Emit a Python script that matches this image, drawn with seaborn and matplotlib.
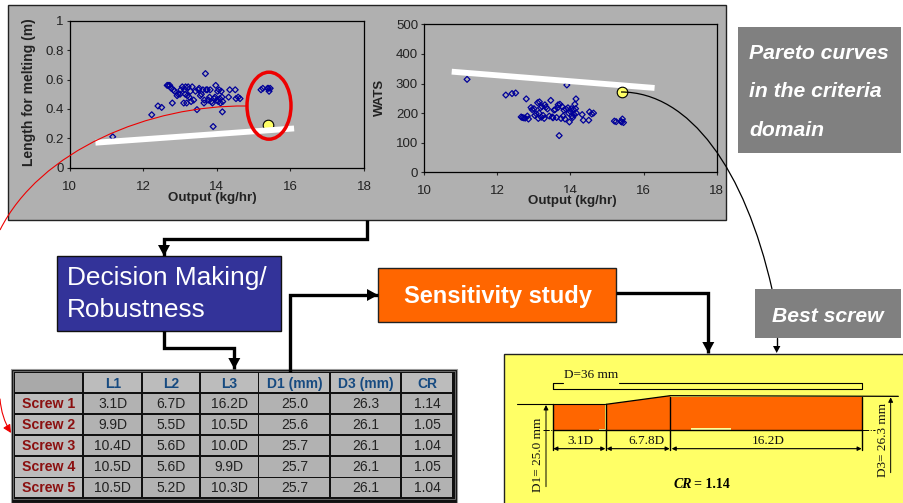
import matplotlib
matplotlib.use('Agg')
import matplotlib.pyplot as plt
from matplotlib.patches import Rectangle, Ellipse, Polygon, PathPatch
from matplotlib.path import Path
import seaborn as sns

# Values (same designs in both)
output_kg = [11.17, 12.23, 12.40, 12.50, 12.65, 12.68, 12.72, 12.76, 12.79, 12.82,
             12.85, 12.92, 12.95, 13.00, 13.02, 13.06, 13.10, 13.12, 13.14, 13.15,
             13.18, 13.20, 13.22, 13.25, 13.28, 13.30, 13.33, 13.37, 13.42, 13.46,
             13.50, 13.52, 13.55, 13.58, 13.62, 13.65, 13.66, 13.69, 13.71, 13.74,
             13.77, 13.80, 13.82, 13.85, 13.88, 13.90, 13.93, 13.95, 13.97, 14.00,
             14.02, 14.04, 14.06, 14.08, 14.10, 14.12, 14.14, 14.15, 14.16, 14.32,
             14.35, 14.50, 14.52, 14.58, 14.63, 15.20, 15.25, 15.38, 15.40, 15.42, 15.45]
length_m = [0.21, 0.36, 0.42, 0.41, 0.56, 0.56, 0.56, 0.54, 0.44, 0.53,
            0.52, 0.49, 0.50, 0.50, 0.53, 0.55, 0.44, 0.53, 0.50, 0.55,
            0.44, 0.49, 0.55, 0.48, 0.52, 0.45, 0.55, 0.46, 0.52, 0.395,
            0.53, 0.54, 0.49, 0.50, 0.53, 0.44, 0.46, 0.64, 0.53, 0.53,
            0.46, 0.48, 0.53, 0.45, 0.44, 0.28, 0.47, 0.48, 0.56, 0.46,
            0.52, 0.45, 0.53, 0.47, 0.44, 0.52, 0.48, 0.38, 0.45, 0.48,
            0.53, 0.53, 0.47, 0.48, 0.47, 0.53, 0.54, 0.54, 0.54, 0.52, 0.54]
wats = [314, 261, 266, 268, 187, 185, 184, 183, 248, 190,
        180, 219, 212, 215, 192, 198, 235, 182, 200, 238,
        218, 186, 222, 192, 182, 228, 220, 214, 190, 243,
        187, 184, 210, 212, 185, 218, 228, 124, 230, 182,
        222, 190, 210, 180, 213, 295, 218, 200, 170, 205,
        215, 190, 185, 212, 195, 230, 215, 248, 200, 195,
        176, 176, 204, 197, 200, 173, 171, 172, 170, 180, 168]
pareto_x = [15.4]
pareto_length = [0.29]
pareto_wats = [272]
front_x_left = [10.7, 16.1]
front_y_left = [0.17, 0.267]
front_x_right = [10.75, 16.3]
front_y_right = [340, 285]

x_ticks = [10, 12, 14, 16, 18]
length_ticks = [0, 0.2, 0.4, 0.6, 0.8, 1]
length_labels = ['0', '0.2', '0.4', '0.6', '0.8', '1']
wats_ticks = [0, 100, 200, 300, 400, 500]

table_columns = ['L1', 'L2', 'L3', 'D1 (mm)', 'D3 (mm)', 'CR']
table_rows = ['Screw 1', 'Screw 2', 'Screw 3', 'Screw 4', 'Screw 5']
l1_values = ['3.1D', '9.9D', '10.4D', '10.5D', '10.5D']
l2_values = ['6.7D', '5.5D', '5.6D', '5.6D', '5.2D']
l3_values = ['16.2D', '10.5D', '10.0D', '9.9D', '10.3D']
d1_values = ['25.0', '25.6', '25.7', '25.7', '25.7']
d3_values = ['26.3', '26.1', '26.1', '26.1', '26.1']
cr_values = ['1.14', '1.05', '1.04', '1.05', '1.04']

sns.set_theme(style='white')
plt.rcParams['font.family'] = ['Liberation Sans', 'DejaVu Sans']

W, H = 904, 503
PANEL = '#b0b0b0'
fig = plt.figure(figsize=(W / 100, H / 100), dpi=100)


def pixel_axes(zorder):
    ax = fig.add_axes([0, 0, 1, 1], zorder=zorder)
    ax.set_xlim(0, W)
    ax.set_ylim(H, 0)
    ax.axis('off')
    return ax


def box(ax, x0, y0, x1, y1, **kw):
    ax.add_patch(Rectangle((x0, y0), x1 - x0, y1 - y0, **kw))


def chart_axes(x0, y0, x1, y1):
    ax = fig.add_axes([x0 / W, 1 - y1 / H, (x1 - x0) / W, (y1 - y0) / H], zorder=1)
    ax.patch.set_alpha(0)
    for s in ax.spines.values():
        s.set_color('black')
        s.set_linewidth(0.9)
    return ax


def draw_chart(ax, y_values, point_y, front_x, front_y, ylim, yticks, ylabels, point_z):
    sns.scatterplot(x=output_kg, y=y_values, marker='D', s=9, facecolor='none',
                    edgecolor='#000099', linewidth=0.9, ax=ax)
    sns.lineplot(x=front_x, y=front_y, color='white', linewidth=4.2, ax=ax, zorder=3,
                 solid_capstyle='butt')
    sns.scatterplot(x=pareto_x, y=point_y, s=58, color='#ffff66', edgecolor='black',
                    linewidth=0.8, ax=ax, zorder=point_z, clip_on=False)
    ax.set_xlim(10, 18)
    ax.set_ylim(*ylim)
    ax.set_xticks(x_ticks)
    ax.set_yticks(yticks)
    ax.set_yticklabels(ylabels)
    ax.tick_params(axis='x', length=2.5, width=0.8, pad=7, labelsize=9.5, labelcolor='#222222', bottom=True)
    ax.tick_params(axis='y', length=2.5, width=0.8, pad=2, labelsize=9.5, labelcolor='#222222', left=True)


bg = pixel_axes(0)
top = pixel_axes(2)

# grey panel behind both plots
box(bg, 8, 5, 726.5, 220, facecolor=PANEL, edgecolor='#222222', linewidth=1)

ax_left = chart_axes(69.7, 20.7, 364, 167.7)
draw_chart(ax_left, length_m, pareto_length, front_x_left, front_y_left, (0, 1),
           length_ticks, length_labels, 2.5)
ax_right = chart_axes(424.3, 24.3, 716.7, 172.3)
draw_chart(ax_right, wats, pareto_wats, front_x_right, front_y_right, (0, 500),
           wats_ticks, [str(t) for t in wats_ticks], 4)

label_kw = dict(fontweight='bold', color='#222222', ha='center', va='center')
for x, y in [(212, 198), (572.7, 201)]:
    top.text(x, y, 'Output (kg/hr)', fontsize=9.6,
             bbox=dict(facecolor=PANEL, edgecolor='none', pad=1.2), **label_kw)
top.text(29, 92, 'Length for melting (m)', fontsize=10, rotation=90, **label_kw)
top.text(380, 97, 'WATS', fontsize=9.5, rotation=90, **label_kw)

# red selection and leader curve
top.add_patch(Ellipse((269, 105.7), 44, 67, facecolor='none', edgecolor='#ee0000', linewidth=2.5))
red = Path([(246, 106), (150, 105), (40, 150), (0, 230)],
           [Path.MOVETO, Path.CURVE4, Path.CURVE4, Path.CURVE4])
top.add_patch(PathPatch(red, facecolor='none', edgecolor='#ee0000', linewidth=0.8))
top.annotate('', xy=(11, 433), xytext=(0, 399),
             arrowprops=dict(arrowstyle='-|>', color='#ee0000', lw=0.8,
                             connectionstyle='arc3,rad=0.12', shrinkA=0, shrinkB=0))

# black leader to the best screw
black = Path([(621, 92), (690, 92), (745, 170), (772, 289)],
             [Path.MOVETO, Path.CURVE4, Path.CURVE4, Path.CURVE4])
top.add_patch(PathPatch(black, facecolor='none', edgecolor='black', linewidth=0.9))

# caption boxes
box(top, 738, 27.3, 900.7, 152.7, facecolor='#808080', edgecolor='none')
cap = dict(color='white', fontweight='bold', fontstyle='italic', fontsize=15.2, va='center')
top.text(749, 53, 'Pareto curves', **cap)
top.text(749, 91, 'in the criteria', **cap)
top.text(749, 130, 'domain', **cap)
box(top, 755, 289, 901, 337.7, facecolor='#808080', edgecolor='none')
top.text(772.5, 316, 'Best screw', **cap)

box(top, 56.7, 255.7, 280.7, 330.7, facecolor='#333399', edgecolor='#111111', linewidth=1)
top.text(67, 278, 'Decision Making/', color='white', fontsize=18.9, va='center')
top.text(67, 310, 'Robustness', color='white', fontsize=18.9, va='center')
box(top, 378.3, 268.3, 616, 322.3, facecolor='#ff6600', edgecolor='#222222', linewidth=1)
top.text(498, 296.5, 'Sensitivity study', color='white', fontsize=17, fontweight='bold',
         ha='center', va='center')


def flow(ax, xs, ys):
    ax.plot(xs, ys, color='black', linewidth=2.4, solid_joinstyle='miter', solid_capstyle='butt')
    tx, ty = xs[-1], ys[-1]
    if xs[-1] == xs[-2]:
        tri = [(tx, ty), (tx - 6, ty - 11), (tx + 6, ty - 11)]
    else:
        tri = [(tx, ty), (tx - 11, ty - 6), (tx - 11, ty + 6)]
    ax.add_patch(Polygon(tri, closed=True, facecolor='black', edgecolor='none'))


flow(top, [367.5, 367.5, 164, 164, 164], [220, 239, 239, 246, 256])
flow(top, [164.3, 164.3, 234.3, 234.3], [331, 348.3, 348.3, 369])
flow(top, [290, 290, 378], [372, 295, 295])
flow(top, [616, 708.3, 708.3], [292.7, 292.7, 353])
top.plot([776.7, 776.7], [338, 346], color='black', linewidth=1)
top.add_patch(Polygon([(776.7, 353), (773, 346), (780.4, 346)], closed=True, facecolor='black', edgecolor='none'))

# parameter table
col_edges = [14, 83.3, 142.3, 200, 258.7, 330, 401.3, 453.3]
row_edges = [372, 392.7, 414, 435, 456, 477.3, 497.3]
box(top, 11, 369, 457.5, 503, facecolor='#111111', edgecolor='#999999', linewidth=0.8)
box(top, 12.8, 370.8, 455.4, 499.4, facecolor='none', edgecolor='#777777', linewidth=0.6)
columns = [l1_values, l2_values, l3_values, d1_values, d3_values, cr_values]
for i in range(len(col_edges) - 1):
    for j in range(len(row_edges) - 1):
        if i == 0 and j == 0:
            shade = '#a9a9a9'
        elif j == 0 or i == 0:
            shade = '#bcbcbc'
        else:
            shade = '#b2b2b2'
        box(top, col_edges[i] + 0.8, row_edges[j] + 0.8, col_edges[i + 1] - 0.8, row_edges[j + 1] - 0.8,
            facecolor=shade, edgecolor='none')
for i, name in enumerate(table_columns):
    top.text((col_edges[i + 1] + col_edges[i + 2]) / 2, 384, name, color='#164a80', fontsize=10,
             fontweight='bold', ha='center', va='center')
for j, name in enumerate(table_rows):
    cy = (row_edges[j + 1] + row_edges[j + 2]) / 2
    top.text(49, cy + 0.5, name, color='#8b1010', fontsize=10.2, fontweight='bold', ha='center', va='center')
    for i, col in enumerate(columns):
        top.text((col_edges[i + 1] + col_edges[i + 2]) / 2, cy + 0.5, col[j], color='#222222', fontsize=10,
                 ha='center', va='center')

# screw drawing
box(top, 504, 353.5, 906, 505, facecolor='#ffff66', edgecolor='#222222', linewidth=1)


def zx(v):
    return 500 + v / 3


def zy(v):
    return 340 + v / 3


def zline(xs, ys, **kw):
    kw.setdefault('color', 'black')
    kw.setdefault('linewidth', 0.8)
    top.plot([zx(v) for v in xs], [zy(v) for v in ys], **kw)


for poly in [[(160, 193), (316, 193), (316, 270), (160, 270)],
             [(318, 193), (511, 167), (511, 270), (318, 270)],
             [(513, 170), (1086, 170), (1086, 270), (513, 270)]]:
    top.add_patch(Polygon([(zx(a), zy(b)) for a, b in poly], closed=True, facecolor='#ff6600', edgecolor='none'))
zline([160, 160, 190], [147, 128, 128])
zline([357, 1087, 1087, 160, 160], [128, 128, 147, 147, 128])
zline([50, 160, 316], [193, 193, 193])
zline([318, 511, 1195], [193, 167, 169], linewidth=0.9)
zline([130, 1125], [270, 270], linewidth=0.7, linestyle='-.')
zline([160, 1086], [270, 270], linewidth=1)
box(top, zx(298), zy(267), zx(318), zy(271), facecolor='#ffff99', edgecolor='none')
box(top, zx(573), zy(264), zx(693), zy(271), facecolor='#ffff99', edgecolor='none')
for v in [160, 318, 511, 1087]:
    zline([v, v], [193 if v < 500 else 170, 330], linewidth=1)
for a, b in [(160, 316), (320, 509), (515, 1085)]:
    top.annotate('', xy=(zx(a), zy(326)), xytext=(zx(b), zy(326)),
                 arrowprops=dict(arrowstyle='<|-|>', color='black', lw=0.8, shrinkA=0, shrinkB=0, mutation_scale=6))
for v, a, b in [(138, 440, 195), (1172, 398, 172)]:
    top.annotate('', xy=(zx(v), zy(b)), xytext=(zx(v), zy(a)),
                 arrowprops=dict(arrowstyle='-|>', color='black', lw=0.7, shrinkA=0, shrinkB=0, mutation_scale=7))

serif = dict(family='Liberation Serif', color='#111111', fontsize=9.5, va='center')
top.text(zx(193), zy(104), 'D=36 mm', ha='left', **serif)
top.text(zx(240), zy(304), '3.1D', ha='center', **serif)
top.text(zx(438), zy(302), '6.7.8D', ha='center', **serif)
top.text(zx(805), zy(302), '16.2D', ha='center', **serif)
top.text(zx(115), zy(343), 'D1= 25.0 mm', ha='center', rotation=90, **serif)
top.text(zx(1150), zy(300), 'D3= 26.3 mm', ha='center', rotation=90, **serif)
top.text(zx(577), zy(434), 'CR', family='Liberation Serif', fontweight='bold', fontstyle='italic',
         fontsize=10, ha='right', va='center', color='black')
top.text(zx(583), zy(434), '= 1.14', family='Liberation Serif', fontweight='bold',
         fontsize=10, ha='left', va='center', color='black')

fig.savefig('out.png', dpi=100)
